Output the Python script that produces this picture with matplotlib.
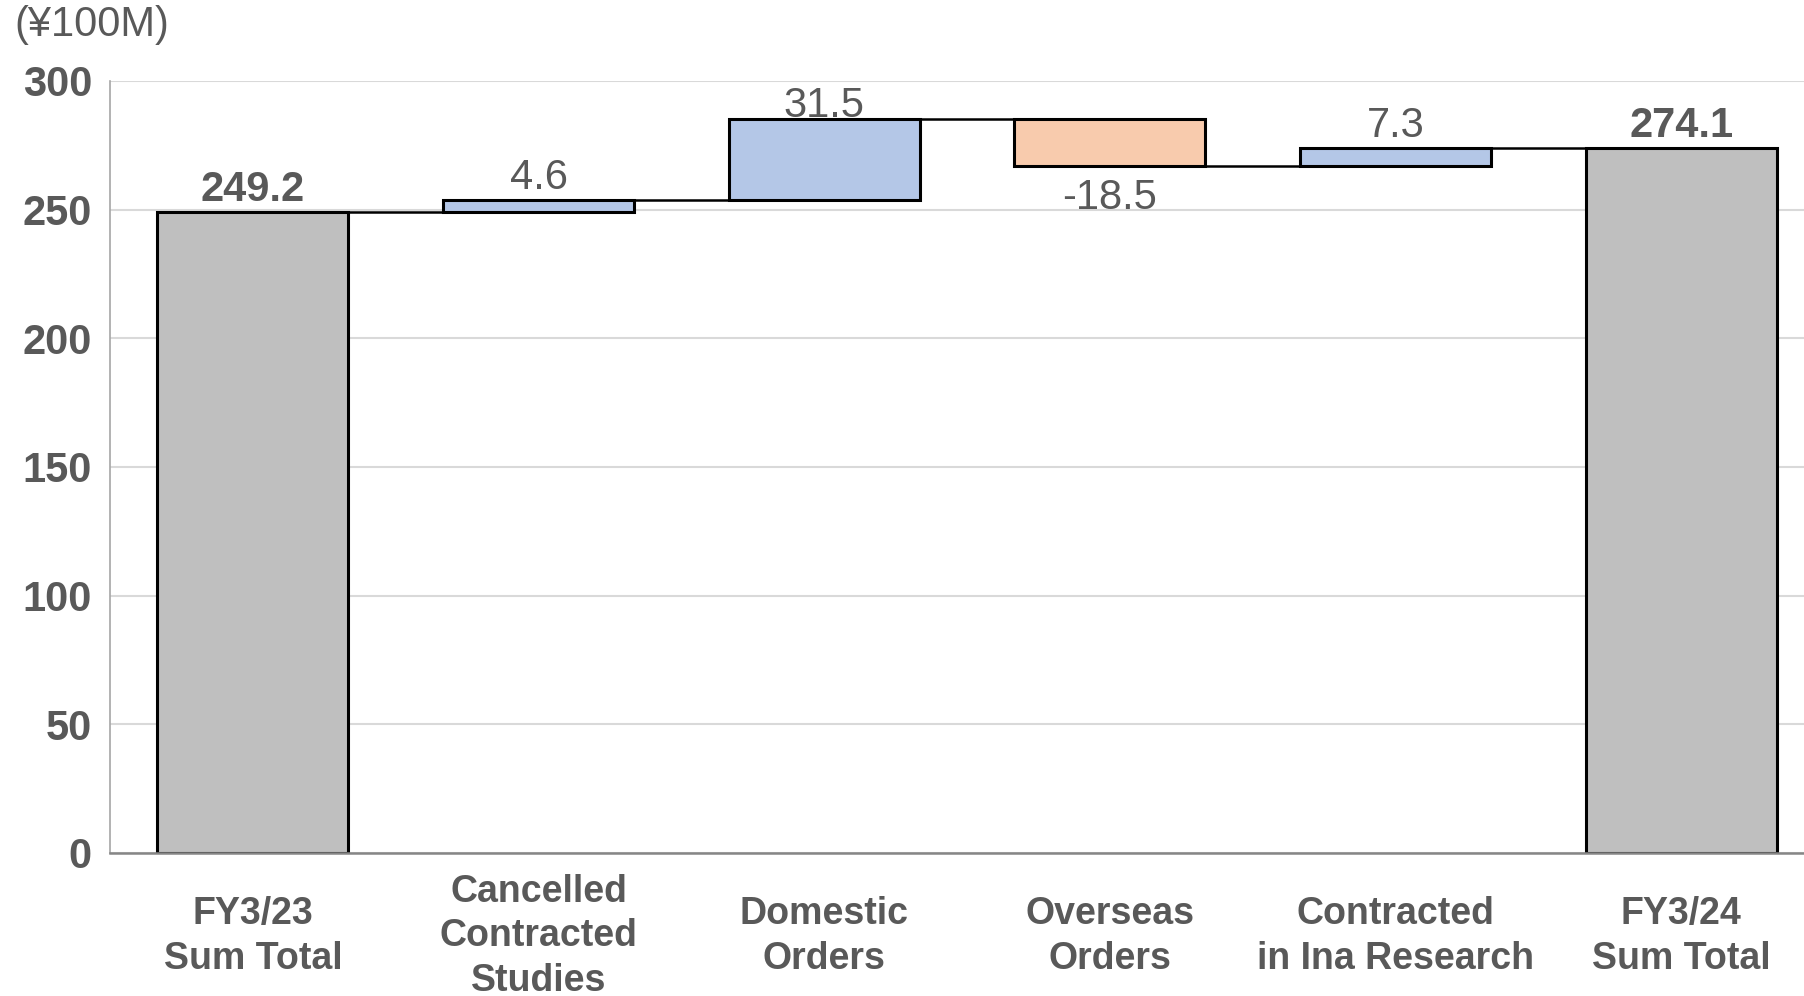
import numpy as np
import matplotlib
matplotlib.use("Agg")
import matplotlib.pyplot as plt

# Data (unit: 100M yen)
categories = ["FY3/23\nSum Total", "Cancelled\nContracted\nStudies", "Domestic\nOrders",
              "Overseas\nOrders", "Contracted\nin Ina Research", "FY3/24\nSum Total"]
start_total = 249.2
changes = [4.6, 31.5, -18.5, 7.3]
end_total = 274.1

text_col = "#595959"
gray = "#BFBFBF"
blue = "#B4C7E7"
orange = "#F8CBAD"

plt.rcParams["font.family"] = ["Liberation Sans", "DejaVu Sans"]

# waterfall bottoms / heights
levels = np.concatenate([[start_total], start_total + np.cumsum(changes)])
bottoms = [0]
heights = [start_total]
colors = [gray]
for i, c in enumerate(changes):
    bottoms.append(min(levels[i], levels[i + 1]))
    heights.append(abs(c))
    colors.append(blue if c >= 0 else orange)
bottoms.append(0)
heights.append(end_total)
colors.append(gray)

x = np.arange(len(categories))
w = 0.668

fig = plt.figure(figsize=(18.04, 9.96), dpi=100)
ax = fig.add_axes([0.061, 0.1436, 0.939, 0.7751])

ax.bar(x, heights, bottom=bottoms, width=w, color=colors, edgecolor="black",
       linewidth=2.2, zorder=3)

# connector lines
for i in range(len(x) - 1):
    lvl = levels[i]
    ax.plot([x[i] + w / 2, x[i + 1] - w / 2], [lvl, lvl], color="black", lw=1.8, zorder=2)

# labels
lab_vals = [start_total] + changes + [end_total]
tops = [b + h for b, h in zip(bottoms, heights)]
for i, v in enumerate(lab_vals):
    bold = i in (0, len(lab_vals) - 1)
    if v < 0:
        ax.annotate(f"{v:.1f}", (x[i], bottoms[i]), xytext=(0, -8), textcoords="offset points",
                    ha="center", va="top", fontsize=30, color=text_col)
    else:
        off = -5 if i == 2 else 1
        ax.annotate(f"{v:.1f}", (x[i], tops[i]), xytext=(0, off), textcoords="offset points",
                    ha="center", va="bottom", fontsize=30, color=text_col,
                    fontweight="bold" if bold else "normal", zorder=4)

ax.set_xlim(-0.5, 5.43)
ax.set_ylim(0, 300)
ax.set_yticks(np.arange(0, 301, 50))
ax.yaxis.grid(True, color="#D9D9D9", lw=1.5, zorder=0)
ax.set_axisbelow(True)
for s in ["top", "right"]:
    ax.spines[s].set_visible(False)
ax.spines["left"].set_color("#A6A6A6")
ax.spines["left"].set_linewidth(1.2)
ax.spines["bottom"].set_color("#868686")
ax.spines["bottom"].set_linewidth(1.8)
ax.spines["bottom"].set_zorder(4)

ax.tick_params(axis="y", length=0, pad=13, labelsize=30, labelcolor=text_col)
for t in ax.get_yticklabels():
    t.set_fontweight("bold")

ax.set_xticks(x)
ax.set_xticklabels(categories, fontsize=27, color=text_col, fontweight="bold",
                   linespacing=1.3)
ax.tick_params(axis="x", length=0, pad=60)
for t in ax.get_xticklabels():
    t.set_va("center")

fig.text(0.008, 0.975, "(¥100M)", fontsize=30, color=text_col, ha="left", va="center")

fig.savefig("out.png", dpi=100)
